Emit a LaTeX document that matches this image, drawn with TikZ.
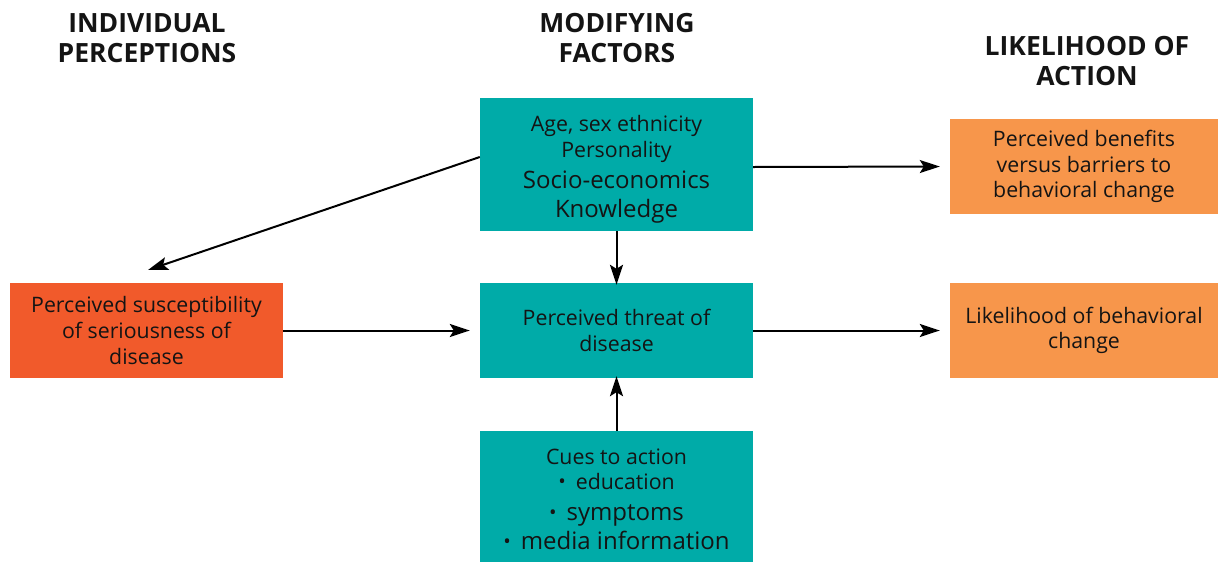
\documentclass[tikz,border=0pt]{standalone}
\usepackage{fontspec}
\setmainfont{Open Sans}
\usetikzlibrary{arrows.meta}
\definecolor{teal1}{HTML}{00ABA8}
\definecolor{red1}{HTML}{F15A2B}
\definecolor{orange1}{HTML}{F7964B}
\newcommand\fsA{\fontsize{21.3}{25.8}\selectfont}
\newcommand\fsB{\fontsize{24}{29}\selectfont}
\newcommand\bul{{\fontsize{20}{20}\selectfont\raisebox{1.5pt}{•}}\hspace{10pt}}
\tikzset{
  box/.style={draw=none, minimum width=273pt, inner sep=0pt, align=center, font=\fsA, text=black!92},
  hdr/.style={align=center, font=\fontsize{26.5}{30.5}\selectfont\bfseries, text=black!92},
  arr/.style={-{Stealth[length=20pt,width=13pt,inset=4pt]}, line width=2pt}
}
\begin{document}
\begin{tikzpicture}[x=1pt,y=-1pt]
\useasboundingbox (0,0) rectangle (1219,563);
% headers
\node[hdr] (h1) at (147,38) {INDIVIDUAL\\PERCEPTIONS};
\node[hdr] (h2) at (617,38) {MODIFYING\\FACTORS};
\node[hdr] (h3) at (1087,61) {LIKELIHOOD OF\\ACTION};
% boxes
\node[box, fill=teal1, minimum height=133pt] (top) at (616.5,164.5)
  {\rule{0pt}{26pt}Age, sex ethnicity\\Personality\\[5pt]{\fsB Socio-economics}\\[4pt]{\fsB Knowledge}};
\node[box, fill=teal1, minimum height=95pt] (mid) at (616.5,330.5)
  {Perceived threat of\\disease};
\node[box, fill=teal1, minimum height=131pt] (bot) at (616.5,496.5)
  {\rule{0pt}{21pt}Cues to action\\\bul education\\[5pt]{\fsB\bul symptoms}\\[3pt]{\fsB\bul media information}};
\node[box, fill=red1, minimum height=95pt] (left) at (146.5,330.5)
  {Perceived susceptibility\\of seriousness of\\disease};
\node[box, fill=orange1, minimum width=268pt, minimum height=95pt] (rtop) at (1084,166.5)
  {Perceived benefits\\versus barriers to\\behavioral change};
\node[box, fill=orange1, minimum width=268pt, minimum height=95pt] (rbot) at (1084,330.5)
  {Likelihood of behavioral\\change};
% connectors
\coordinate (a1) at (148,270);
\draw[arr] (top.west |- 0,157) -- (a1);
\draw[arr] (top.south) -- ([yshift=-2pt]mid.north);
\draw[arr] (left.east) -- ([xshift=-10pt]mid.west);
\draw[arr] (mid.east) -- ([xshift=-10pt]rbot.west);
\draw[arr] (top.east |- 0,167) -- ([xshift=-10pt]rtop.west);
\draw[arr] (bot.north) -- ([yshift=2pt]mid.south);
\end{tikzpicture}
\end{document}
